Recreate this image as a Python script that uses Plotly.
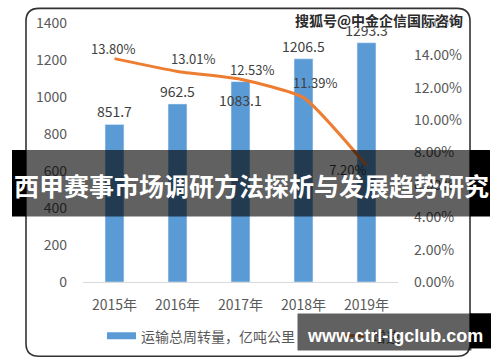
import plotly.graph_objects as go

# ---- data ----
years = ["2015年", "2016年", "2017年", "2018年", "2019年"]
volume = [851.7, 962.5, 1083.1, 1206.5, 1293.3]
growth = [0.1380, 0.1301, 0.1253, 0.1139, 0.0720]
growth_labels = ["13.80%", "13.01%", "12.53%", "11.39%", "7.20%"]
bar_name = "运输总周转量，亿吨公里"
line_name = "增速"
left_ticks = [0, 200, 400, 600, 800, 1000, 1200, 1400]
right_ticks = [0, 0.02, 0.04, 0.06, 0.08, 0.10, 0.12, 0.14, 0.16]
title_text = "西甲赛事市场调研方法探析与发展趋势研究"
watermark = "搜狐号@中金企信国际咨询"
site = "www.ctrl-lgclub.com"

# ---- layout geometry (pixels) ----
W, H = 500, 362
L, R, T, B = 83, 398, 17, 282
FONT = "Noto Sans CJK SC, Noto Sans, sans-serif"
GRAY = "#595959"
LABEL = "#404040"
BLUE = "#5B9BD5"
ORANGE = "#ED7D31"

# label offsets (style: pixel shift of each growth label from its point)
label_dx = [-2, 15, 11, 11]
label_dy = [10, 13, 10, 15]
INSIDE_BAR = 2  # the 2017 bar label sits just inside the bar top


def px(x):
    return (x - L) / (R - L)


def py(y):
    return (B - y) / (B - T)


fig = go.Figure()
fig.add_trace(go.Bar(
    x=years, y=volume, name=bar_name, marker_color=BLUE,
    text=["" if i == INSIDE_BAR else f"{v}" for i, v in enumerate(volume)],
    textposition="outside", cliponaxis=False,
    constraintext="none",
    textfont=dict(family=FONT, size=14, color=LABEL),
    showlegend=False, hoverinfo="skip",
))
# last label lies under the banner -> keep it as trace text so the banner covers it
fig.add_trace(go.Scatter(
    x=years, y=growth, name=line_name, yaxis="y2", mode="lines+text",
    line=dict(color=ORANGE, width=3, shape="spline", smoothing=0.5),
    text=["", "", "", "", growth_labels[4]],
    textposition="bottom left",
    textfont=dict(family=FONT, size=13, color=LABEL),
    cliponaxis=False, showlegend=False, hoverinfo="skip",
))

shapes = []
# rounded chart frame
x0, y0, x1, y1, r = 26, 2, 470, 358, 13
path = (f"M {px(x0 + r)},{py(y0)} L {px(x1 - r)},{py(y0)} "
        f"Q {px(x1)},{py(y0)} {px(x1)},{py(y0 + r)} L {px(x1)},{py(y1 - r)} "
        f"Q {px(x1)},{py(y1)} {px(x1 - r)},{py(y1)} L {px(x0 + r)},{py(y1)} "
        f"Q {px(x0)},{py(y1)} {px(x0)},{py(y1 - r)} L {px(x0)},{py(y0 + r)} "
        f"Q {px(x0)},{py(y0)} {px(x0 + r)},{py(y0)} Z")
shapes.append(dict(type="path", path=path, xref="paper", yref="paper",
                   line=dict(color="#333333", width=1.6), layer="above"))
# legend symbols
shapes.append(dict(type="line", xref="paper", yref="paper", x0=px(107), x1=px(136),
                   y0=py(337), y1=py(337), line=dict(color=BLUE, width=7), layer="above"))
shapes.append(dict(type="line", xref="paper", yref="paper", x0=px(338), x1=px(364),
                   y0=py(337), y1=py(337), line=dict(color=ORANGE, width=3), layer="above"))
# banner
shapes.append(dict(type="rect", xref="paper", yref="paper", x0=px(26), x1=px(470),
                   y0=py(215), y1=py(147), fillcolor="rgba(0,0,0,0.62)",
                   line=dict(width=0), layer="above"))
shapes.append(dict(type="rect", xref="paper", yref="paper", x0=px(12), x1=px(26),
                   y0=py(215), y1=py(147), fillcolor="black",
                   line=dict(width=0), layer="above"))
shapes.append(dict(type="rect", xref="paper", yref="paper", x0=px(470), x1=px(490),
                   y0=py(215), y1=py(147), fillcolor="black",
                   line=dict(width=0), layer="above"))
# site box black part
shapes.append(dict(type="rect", xref="paper", yref="paper", x0=px(470), x1=px(491),
                   y0=py(350), y1=py(314), fillcolor="black",
                   line=dict(width=0), layer="above"))

annotations = [dict(
    text=f"{volume[INSIDE_BAR]}", x=years[INSIDE_BAR], y=volume[INSIDE_BAR],
    xref="x", yref="y", xanchor="center", yanchor="middle", yshift=-18,
    showarrow=False, font=dict(family=FONT, size=14, color=LABEL))]
for i in range(4):
    annotations.append(dict(
        text=growth_labels[i], x=years[i], y=growth[i], xref="x", yref="y2",
        xanchor="center", yanchor="middle", xshift=label_dx[i], yshift=label_dy[i],
        showarrow=False, font=dict(family=FONT, size=13, color=LABEL)))

annotations += [
    dict(text=bar_name, xref="paper", yref="paper", x=px(139), y=py(337),
         xanchor="left", yanchor="middle", showarrow=False,
         font=dict(family=FONT, size=14, color=GRAY)),
    dict(text=line_name, xref="paper", yref="paper", x=px(370), y=py(337),
         xanchor="left", yanchor="middle", showarrow=False,
         font=dict(family=FONT, size=14, color=GRAY)),
    # site box gray part
    dict(text=" ", xref="paper", yref="paper", x=px(297), y=py(314),
         xanchor="left", yanchor="top", showarrow=False, width=173, height=36,
         borderpad=0, bgcolor="rgba(0,0,0,0.62)"),
    dict(text=f"<b>{site}</b>", xref="paper", yref="paper", x=px(395), y=py(337),
         xanchor="center", yanchor="middle", showarrow=False,
         font=dict(family="Liberation Sans, Arial, sans-serif", size=18, color="white")),
    dict(text=f"<b>{title_text}</b>", xref="paper", yref="paper", x=px(251), y=py(183),
         xanchor="center", yanchor="middle", showarrow=False,
         font=dict(family=FONT, size=25, color="white")),
    dict(text=f"<b>{watermark}</b>", xref="paper", yref="paper", x=px(379), y=py(14),
         xanchor="center", yanchor="middle", showarrow=False,
         font=dict(family=FONT, size=14, color="#2a2a2a", shadow="1px 1px 1px white")),
]

fig.update_layout(
    width=W, height=H,
    margin=dict(l=L, r=W - R, t=T, b=H - B, pad=0),
    paper_bgcolor="white", plot_bgcolor="white",
    bargap=0.7,
    font=dict(family=FONT, size=14, color=GRAY),
    xaxis=dict(type="category", showline=True, linecolor="#D9D9D9", linewidth=1,
               showgrid=False, ticks="", ticklabelstandoff=10,
               tickfont=dict(family=FONT, size=14, color=GRAY)),
    yaxis=dict(range=[0, 1400], tickvals=left_ticks, showgrid=False, zeroline=False,
               showline=False, ticks="", ticklabelstandoff=15,
               tickfont=dict(family=FONT, size=14, color=GRAY)),
    yaxis2=dict(range=[0, 0.16], tickvals=right_ticks, tickformat=".2%",
                overlaying="y", side="right", showgrid=False, zeroline=False,
                showline=False, ticks="", ticklabelstandoff=15,
                tickfont=dict(family=FONT, size=14, color=GRAY)),
    shapes=shapes, annotations=annotations,
    showlegend=False,
)

fig.write_html("out.html", config={"displayModeBar": False},
               post_script="document.body.style.margin='0';")
